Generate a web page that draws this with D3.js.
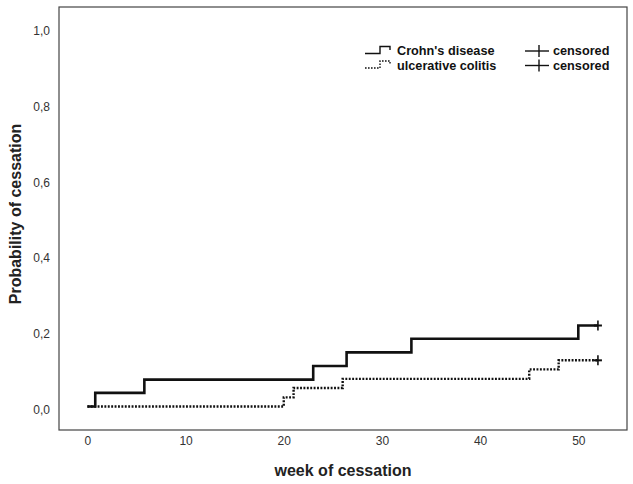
<!DOCTYPE html>
<html>
<head>
<meta charset="utf-8">
<script src="https://cdn.jsdelivr.net/npm/d3@7"></script>
<style>
  html, body { margin: 0; padding: 0; background: #fff; }
  svg { display: block; font-family: "Liberation Sans", Arial, sans-serif; }
</style>
</head>
<body>
<svg id="chart" width="633" height="484"></svg>
<script>
// ---- data ----
const crohnTimes = [0, 0.8, 5.8, 23, 26.4, 33, 50, 52];
const crohnProb  = [0, 0.036, 0.071, 0.107, 0.143, 0.179, 0.214, 0.214];
const ucTimes    = [0, 20, 21, 26, 45, 48, 52];
const ucProb     = [0, 0.024, 0.049, 0.073, 0.098, 0.122, 0.122];
const censorCrohn = [52];
const censorUC    = [52];
const xTicks = [0, 10, 20, 30, 40, 50];
const yTicks = [0, 0.2, 0.4, 0.6, 0.8, 1.0];
const legendLabels = ["Crohn's disease", "ulcerative colitis"];
const censorLabel = "censored";
const xTitle = "week of cessation";
const yTitle = "Probability of cessation";

// ---- layout ----
const frame = {left: 59, top: 7, right: 627, bottom: 430};
const svg = d3.select("#chart");

const x = d3.scaleLinear().domain([0, 50]).range([87.4, 578.3]);
const y = d3.scaleLinear().domain([0, 1]).range([406.5, 28]);

// frame
svg.append("rect")
  .attr("x", frame.left).attr("y", frame.top)
  .attr("width", frame.right - frame.left).attr("height", frame.bottom - frame.top)
  .attr("fill", "none").attr("stroke", "#444").attr("stroke-width", 1.2);

const fmt = v => d3.format(".1f")(v).replace(".", ",");

// y axis
const gy = svg.append("g").attr("transform", `translate(${frame.left},0)`)
  .call(d3.axisLeft(y).tickValues(yTicks).tickSize(0).tickPadding(9).tickFormat(fmt));
gy.select(".domain").remove();
gy.selectAll("text").attr("font-size", 12).attr("fill", "#333")
  .attr("font-family", "Liberation Sans, Arial, sans-serif").attr("dy", "0.55em");

// x axis
const gx = svg.append("g").attr("transform", `translate(0,${frame.bottom})`)
  .call(d3.axisBottom(x).tickValues(xTicks).tickSize(0).tickPadding(6).tickFormat(d3.format("d")));
gx.select(".domain").remove();
gx.selectAll("text").attr("font-size", 12).attr("fill", "#333")
  .attr("font-family", "Liberation Sans, Arial, sans-serif");

// titles
svg.append("text").attr("x", (frame.left + frame.right) / 2).attr("y", 476)
  .attr("text-anchor", "middle").attr("font-size", 16).attr("font-weight", "bold")
  .attr("fill", "#222").text(xTitle);
svg.append("text").attr("transform", "translate(21,214) rotate(-90)")
  .attr("text-anchor", "middle").attr("font-size", 16).attr("font-weight", "bold")
  .attr("fill", "#222").text(yTitle);

// step lines
const line = d3.line().curve(d3.curveStepAfter).x(d => x(d[0])).y(d => y(d[1]));
const crohnData = d3.zip(crohnTimes, crohnProb);
const ucData = d3.zip(ucTimes, ucProb);

svg.append("path").datum(ucData).attr("d", line)
  .attr("fill", "none").attr("stroke", "#111").attr("stroke-width", 2.4)
  .attr("stroke-dasharray", "1.9,1.5");
svg.append("path").datum(crohnData).attr("d", line)
  .attr("fill", "none").attr("stroke", "#111").attr("stroke-width", 2.6);

// censor marks
function censor(times, times2, probs) {
  times.forEach(t => {
    let p = 0;
    times2.forEach((tt, i) => { if (tt <= t) p = probs[i]; });
    const cx = x(t), cy = y(p);
    svg.append("line").attr("x1", cx - 4).attr("x2", cx + 4).attr("y1", cy).attr("y2", cy)
      .attr("stroke", "#111").attr("stroke-width", 2);
    svg.append("line").attr("x1", cx).attr("x2", cx).attr("y1", cy - 5).attr("y2", cy + 5)
      .attr("stroke", "#111").attr("stroke-width", 1.6);
  });
}
censor(censorCrohn, crohnTimes, crohnProb);
censor(censorUC, ucTimes, ucProb);

// legend
const lg = svg.append("g");
const rows = [{y: 51, dash: null}, {y: 65.5, dash: "1.6,1.4"}];
rows.forEach((r, i) => {
  const p = d3.path();
  p.moveTo(365, r.y + 2.5); p.lineTo(380, r.y + 2.5); p.lineTo(380, r.y - 4.5);
  p.lineTo(390, r.y - 4.5); p.lineTo(390, r.y - 1);
  lg.append("path").attr("d", p.toString()).attr("fill", "none").attr("stroke", "#111")
    .attr("stroke-width", 1.4).attr("stroke-dasharray", r.dash);
  lg.append("text").attr("x", 397).attr("y", r.y).attr("dy", "0.35em")
    .attr("font-size", 12.7).attr("font-weight", "bold").attr("fill", "#111")
    .text(legendLabels[i]);
  lg.append("line").attr("x1", 525).attr("x2", 549).attr("y1", r.y).attr("y2", r.y)
    .attr("stroke", "#111").attr("stroke-width", 1.4);
  lg.append("line").attr("x1", 539).attr("x2", 539).attr("y1", r.y - 6).attr("y2", r.y + 6)
    .attr("stroke", "#111").attr("stroke-width", 1.4);
  lg.append("text").attr("x", 553).attr("y", r.y).attr("dy", "0.35em")
    .attr("font-size", 12.7).attr("font-weight", "bold").attr("fill", "#111")
    .text(censorLabel);
});
</script>
</body>
</html>
